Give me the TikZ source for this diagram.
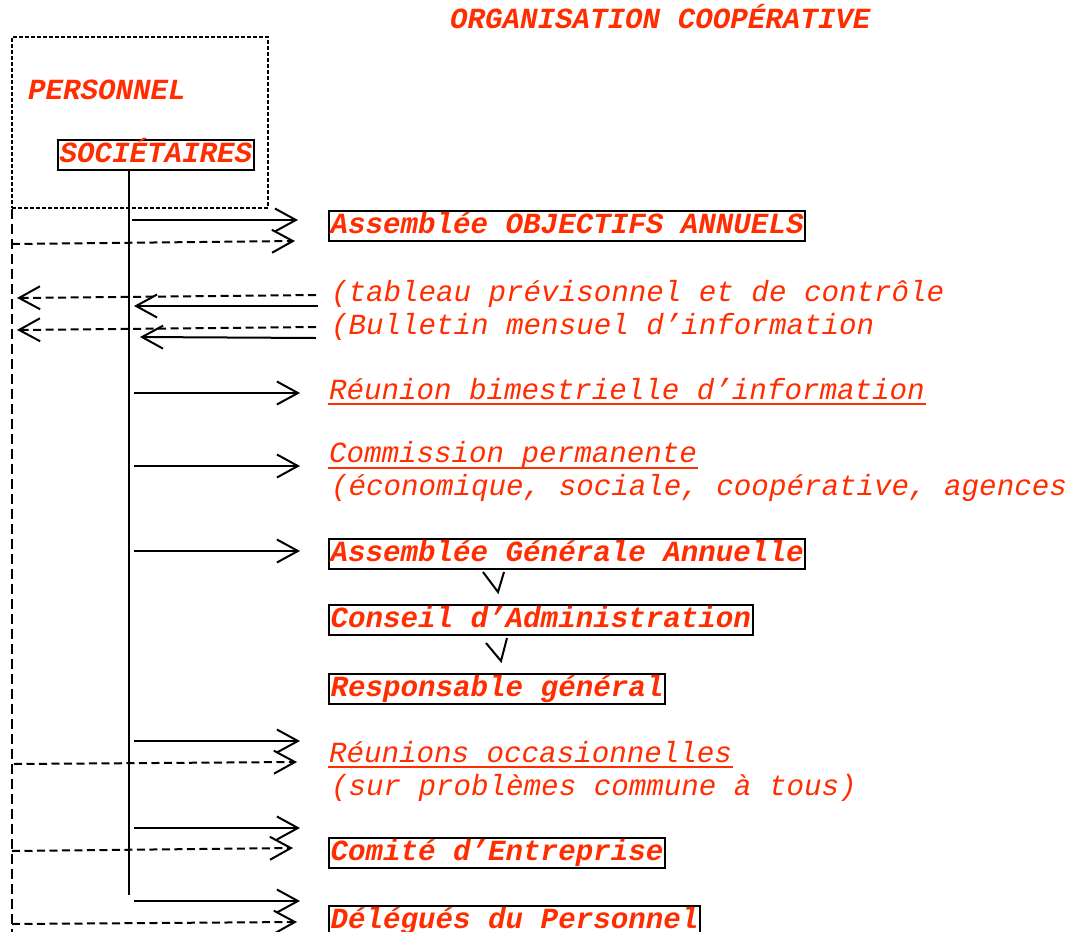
\documentclass[tikz,border=0pt]{standalone}
\usepackage{fontspec}
\usetikzlibrary{arrows.meta}
\setmonofont{Liberation Mono}
\definecolor{orgred}{RGB}{255,45,0}

\tikzset{
  titre/.style={font=\fontsize{29.2pt}{33pt}\selectfont\ttfamily\bfseries\itshape, text=orgred, inner sep=0pt},
  libelle/.style={font=\fontsize{29.2pt}{33pt}\selectfont\ttfamily\itshape, text=orgred, inner sep=0pt},
  cadre/.style={titre, draw=black, line width=2pt, inner xsep=1.5pt, inner ysep=1.5pt, text height=21pt, text depth=6pt},
  groupe/.style={draw=black, line width=1.6pt, dash pattern=on 4pt off 2pt, inner sep=0pt},
  plein/.style={->, line width=2pt},
  tirets/.style={->, line width=2pt, dash pattern=on 8pt off 4.5pt},
  rail/.style={line width=2pt, dash pattern=on 10pt off 5pt},
  souligne/.style={draw=orgred, line width=2.2pt},
  marque/.style={line width=2pt}
}

\begin{document}
\begin{tikzpicture}
            [x=1pt, y=-1pt, >={Straight Barb[length=21pt,width=23pt]}, line width=2pt]
            \useasboundingbox (0,0) rectangle (1069,932);

            \node[titre, anchor=base west] (titre) at (449,28) {ORGANISATION COOPÉRATIVE};
            \node[groupe, anchor=north west, minimum width=256pt, minimum height=171pt] (personnel) at (11,36) {};
            \node[titre, anchor=base west] (perso) at (27,99) {PERSONNEL};
            \node[cadre, anchor=west] (soc) at (57,155) {SOCIÉTAIRES};

            \node[cadre, anchor=west] (objectifs) at (328,225.5) {Assemblée OBJECTIFS ANNUELS};
            \node[libelle, anchor=base west] (tableau) at (330,301) {(tableau prévisonnel et de contrôle};
            \node[libelle, anchor=base west] (bulletin) at (330,334) {(Bulletin mensuel d’information};
            \node[libelle, anchor=base west] (bimes) at (328,399) {Réunion bimestrielle d’information};
            \node[libelle, anchor=base west] (commission) at (328,462) {Commission permanente};
            \node[libelle, anchor=base west] (domaines) at (330,495) {(économique, sociale, coopérative, agences};
            \node[cadre, anchor=west] (ag) at (328,553.5) {Assemblée Générale Annuelle};
            \node[cadre, anchor=west] (ca) at (328,620) {Conseil d’Administration};
            \node[cadre, anchor=west] (resp) at (328,688.5) {Responsable général};
            \node[libelle, anchor=base west] (occas) at (328,762) {Réunions occasionnelles};
            \node[libelle, anchor=base west] (problemes) at (330,795) {(sur problèmes commune à tous)};
            \node[cadre, anchor=west] (ce) at (328,852.5) {Comité d’Entreprise};
            \node[cadre, anchor=west] (dp) at (328,920.5) {Délégués du Personnel};

            % soulignements
            \draw[souligne] ([yshift=-5pt]bimes.base west) -- ([yshift=-5pt]bimes.base east);
            \draw[souligne] ([yshift=-6pt]commission.base west) -- ([yshift=-6pt]commission.base east);
            \draw[souligne] ([yshift=-5pt]occas.base west) -- ([yshift=-5pt]occas.base east);

            % tronc et rail
            \coordinate (basTronc) at (129,895);
            \coordinate (basRail) at (12,932);
            \draw (soc.south -| basTronc) -- (basTronc);
            \draw[rail] (personnel.south west -| basRail) -- (basRail);

            % points d'appui des fleches
            \coordinate (s1) at (132,220);  \coordinate (e1) at (298,220);
            \coordinate (s2) at (12,244);   \coordinate (e2) at (295,241);
            \coordinate (s3) at (316,295);  \coordinate (e3) at (17,298);
            \coordinate (s4) at (318,306);  \coordinate (e4) at (134,306);
            \coordinate (s5) at (316,327);  \coordinate (e5) at (17,330);
            \coordinate (s6) at (316,338);  \coordinate (e6) at (140,337);
            \coordinate (s7) at (134,393);  \coordinate (e7) at (300,393);
            \coordinate (s8) at (134,466);  \coordinate (e8) at (300,466);
            \coordinate (s9) at (134,551);  \coordinate (e9) at (300,551);
            \coordinate (s10) at (134,741); \coordinate (e10) at (300,741);
            \coordinate (s11) at (14,764);  \coordinate (e11) at (297,762);
            \coordinate (s12) at (134,828); \coordinate (e12) at (300,828);
            \coordinate (s13) at (12,851);  \coordinate (e13) at (293,848);
            \coordinate (s14) at (134,901); \coordinate (e14) at (300,901);
            \coordinate (s15) at (12,924);  \coordinate (e15) at (297,922);

            \path[plein] (s1) edge (e1);
            \path[tirets] (s2) edge (e2);
            \path[tirets] (s3) edge (e3);
            \path[plein] (s4) edge (e4);
            \path[tirets] (s5) edge (e5);
            \path[plein] (s6) edge (e6);
            \path[plein] (s7) edge (e7);
            \path[plein] (s8) edge (e8);
            \path[plein] (s9) edge (e9);
            \path[plein] (s10) edge (e10);
            \path[tirets] (s11) edge (e11);
            \path[plein] (s12) edge (e12);
            \path[tirets] (s13) edge (e13);
            \path[plein] (s14) edge (e14);
            \path[tirets] (s15) edge (e15);

            % ag -> ca -> responsable
            \draw[marque] (483,572) -- (498,592) -- (504,572);
            \draw[marque] (486,643) -- (501,661) -- (507,638);
        \end{tikzpicture}
\end{document}
